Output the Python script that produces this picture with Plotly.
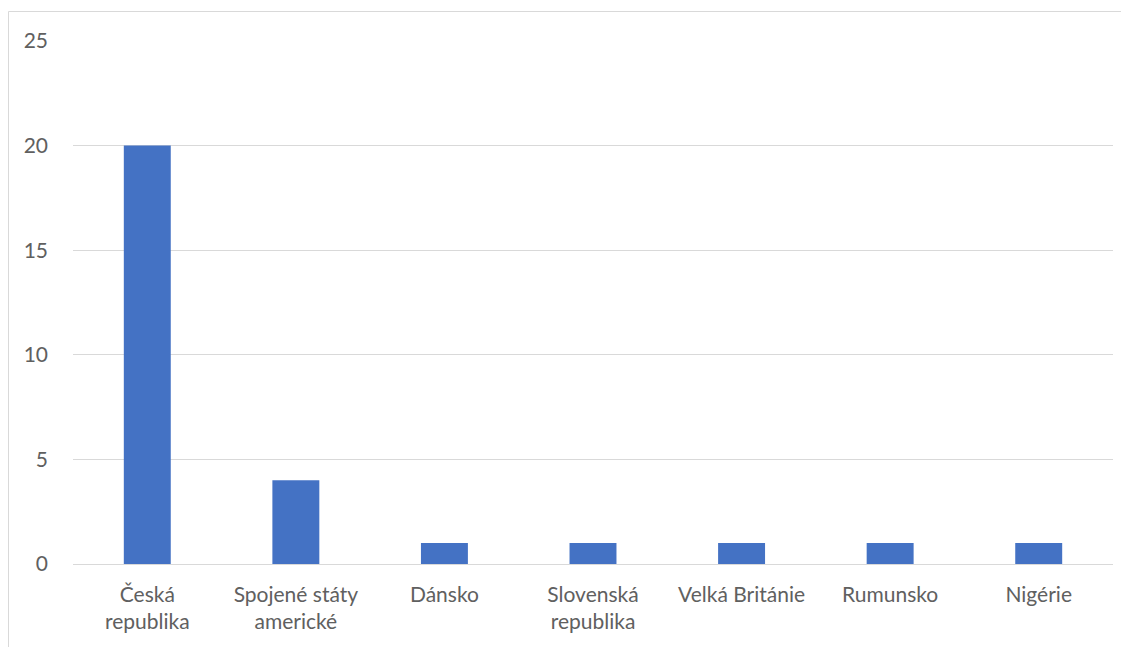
import plotly.graph_objects as go

categories = ["Česká<br>republika", "Spojené státy<br>americké", "Dánsko",
              "Slovenská<br>republika", "Velká Británie", "Rumunsko", "Nigérie"]
values = [20, 4, 1, 1, 1, 1, 1]
y_ticks = [0, 5, 10, 15, 20, 25]

# page has an 8px body margin; figure coordinates = page coordinates - 8
OFF = 8
W, H = 1129 - OFF, 647 - OFF
L, T = 73 - OFF, 41 - OFF
PR, PB = 1113 - OFF, 564 - OFF
R, B = W - PR, H - PB
pw, ph = PR - L, PB - T

fig = go.Figure(go.Bar(x=categories, y=values, marker=dict(color="#4472C4", line=dict(width=0))))

def px_x(p):
    return (p - OFF - L) / pw

def px_y(p):
    return (PB - (p - OFF)) / ph

border = dict(color="#d9d9d9", width=1)
# chart-area frame: top and left edges visible (right/bottom outside the view)
fig.add_shape(type="line", xref="paper", yref="paper",
              x0=px_x(8.5), x1=px_x(1129), y0=px_y(11.5), y1=px_y(11.5), line=border, layer="below")
fig.add_shape(type="line", xref="paper", yref="paper",
              x0=px_x(8.5), x1=px_x(8.5), y0=px_y(11.5), y1=px_y(647), line=border, layer="below")

fig.update_layout(
    width=W, height=H,
    margin=dict(l=L, r=R, t=T, b=B),
    paper_bgcolor="white", plot_bgcolor="white",
    bargap=0.684,
    showlegend=False,
    font=dict(family="Lato, Carlito, sans-serif", size=21, color="#606060"),
    xaxis=dict(showgrid=False, showline=False, zeroline=False, ticks="",
               ticklabelstandoff=16, tickfont=dict(size=21, color="#606060")),
    yaxis=dict(range=[0, 25], tickvals=y_ticks, showgrid=True, gridcolor="#d9d9d9", gridwidth=1,
               zeroline=True, zerolinecolor="#d9d9d9", zerolinewidth=1, showline=False,
               ticks="", ticklabelstandoff=24, tickfont=dict(size=21, color="#606060")),
)

fig.write_html("out.html", config={"displayModeBar": False})
